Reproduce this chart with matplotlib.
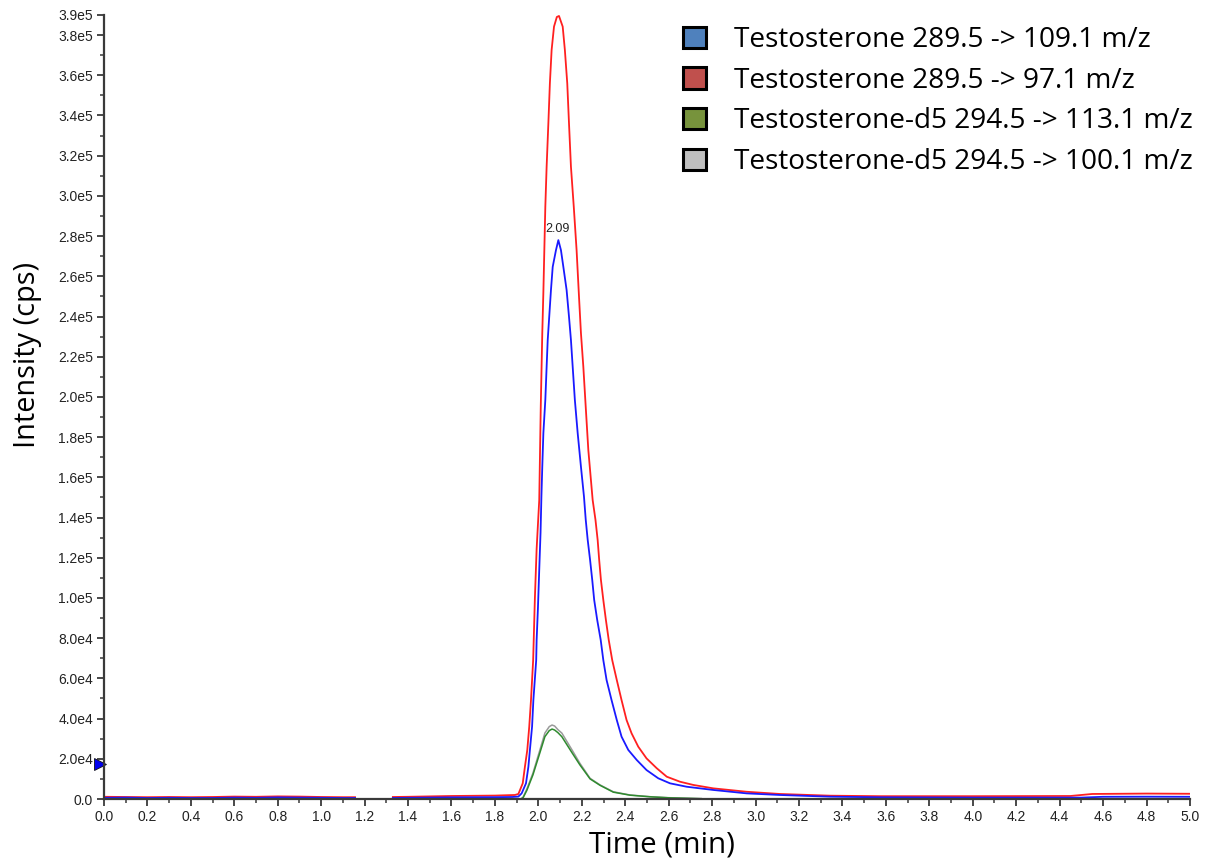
import numpy as np
import matplotlib.pyplot as plt
from matplotlib.patches import Patch
from matplotlib.ticker import FuncFormatter, MultipleLocator

# Testosterone 289.5 -> 109.1 (blue)
t_blue = [0.0, 0.1, 0.2, 0.3, 0.4, 0.5, 0.6, 0.7, 0.8, 0.9, 1.0, 1.1, 1.156, 1.2,
          1.33, 1.4, 1.5, 1.6, 1.7, 1.8, 1.88, 1.908, 1.923, 1.943, 1.954, 1.961,
          1.971, 1.977, 1.990, 1.992, 1.998, 2.004, 2.010, 2.014, 2.018, 2.023,
          2.032, 2.038, 2.043, 2.050, 2.058, 2.066, 2.081, 2.092, 2.104, 2.115,
          2.130, 2.141, 2.150, 2.158, 2.168, 2.181, 2.196, 2.210, 2.218, 2.227,
          2.238, 2.248, 2.257, 2.271, 2.287, 2.299, 2.314, 2.337, 2.361, 2.383,
          2.414, 2.453, 2.498, 2.552, 2.606, 2.683, 2.805, 2.959, 3.112, 3.343,
          3.573, 4.0, 4.5, 4.6, 4.8, 5.0]
i_blue = [600, 700, 500, 600, 500, 500, 700, 600, 800, 700, 600, 500, 500, np.nan,
          500, 600, 700, 800, 850, 900, 1000, 1200, 2800, 7800, 16000, 24400,
          36000, 49200, 69100, 79100, 95000, 114000, 132500, 150400, 165300, 182000,
          198500, 215000, 228300, 239900, 253200, 264700, 273000, 278000, 273000, 264700,
          253200, 239900, 228300, 215000, 198500, 182000, 165300, 150400, 139000, 129000,
          119000, 109000, 99000, 89000, 79100, 69100, 59200, 49200, 39300, 31000,
          24400, 19400, 14400, 10300, 7800, 6100, 4500, 2800, 2000, 1150,
          850, 700, 700, 1100, 1150, 1100]

# Testosterone 289.5 -> 97.1 (red)
t_red = [0.0, 0.1, 0.2, 0.3, 0.4, 0.5, 0.6, 0.7, 0.8, 0.9, 1.0, 1.1, 1.156, 1.2,
         1.33, 1.4, 1.5, 1.6, 1.7, 1.8, 1.86, 1.892, 1.908, 1.928, 1.938, 1.949,
         1.958, 1.966, 1.976, 1.984, 1.992, 2.004, 2.011, 2.018, 2.023, 2.032,
         2.038, 2.046, 2.053, 2.061, 2.072, 2.085, 2.095, 2.112, 2.122, 2.133,
         2.141, 2.150, 2.163, 2.176, 2.187, 2.196, 2.207, 2.218, 2.230, 2.250,
         2.263, 2.273, 2.280, 2.288, 2.299, 2.311, 2.324, 2.340, 2.361, 2.383,
         2.406, 2.429, 2.460, 2.498, 2.545, 2.591, 2.652, 2.713, 2.805, 2.959,
         3.112, 3.343, 3.573, 4.0, 4.45, 4.55, 4.8, 5.0]
i_red = [1100, 1000, 900, 1000, 900, 1000, 1200, 1100, 1300, 1200, 1000, 900, 900, np.nan,
         1000, 1100, 1300, 1500, 1600, 1700, 1900, 2000, 2500, 7800, 16000, 24400,
         36000, 49200, 69100, 100000, 124400, 148700, 195100, 231800, 252000, 294600,
         314500, 336100, 356000, 372600, 384200, 389000, 389500, 384200, 372600, 356000,
         336100, 314500, 294600, 273000, 250000, 231800, 215000, 195100, 173600, 148700,
         138800, 128800, 118900, 109000, 99000, 89000, 79100, 69100, 59200, 49200,
         39300, 32700, 26000, 20200, 15300, 11100, 8600, 7000, 5300, 3600,
         2500, 1650, 1400, 1400, 1500, 2500, 2700, 2600]

# Testosterone-d5 294.5 -> 113.1 (green)
t_green = [1.92, 1.93, 1.947, 1.975, 2.007, 2.03, 2.05, 2.063, 2.075, 2.09, 2.108,
           2.155, 2.191, 2.238, 2.284, 2.345, 2.422, 2.514, 2.6, 2.698, 2.75]
i_green = [0, 700, 4300, 12000, 23000, 31000, 34000, 34800, 34300, 33000, 31000,
           23000, 17000, 10000, 6800, 3400, 1900, 1100, 600, 300, 150]

# Testosterone-d5 294.5 -> 100.1 (grey)
t_grey = [1.92, 1.93, 1.947, 1.975, 2.007, 2.03, 2.05, 2.063, 2.075, 2.09, 2.108,
          2.155, 2.191, 2.238, 2.284, 2.345, 2.422, 2.514, 2.6, 2.698, 2.75]
i_grey = [0, 1000, 5000, 12900, 24400, 32800, 36000, 36800, 36300, 34500, 32800,
          24400, 17800, 10300, 7000, 3600, 2000, 1150, 650, 350, 200]

legend_labels = ["Testosterone 289.5 -> 109.1 m/z",
                 "Testosterone 289.5 -> 97.1 m/z",
                 "Testosterone-d5 294.5 -> 113.1 m/z",
                 "Testosterone-d5 294.5 -> 100.1 m/z"]
legend_colors = ["#4F81BD", "#C0504D", "#77933C", "#BFBFBF"]

peak_time = 2.09
label_level = 283500
marker_level = 17400

axis_col = "#3a3a3a"

fig = plt.figure(figsize=(12.12, 8.65), dpi=100)
ax = fig.add_axes([0.0858, 0.0763, 0.8960, 0.9064])

ax.plot(t_grey, i_grey, color="#9a9a9a", lw=1.1)
ax.plot(t_green, i_green, color="#2e8b2e", lw=1.1)
ax.plot(t_red, i_red, color="#ff2020", lw=1.3)
ax.plot(t_blue, i_blue, color="#1a1aff", lw=1.3)

ax.text(peak_time, label_level, "2.09", ha="center", va="center",
        fontsize=9, family="Liberation Sans", color="#222222")

ax.plot([-0.018], [marker_level], marker=">", color="#0000ee", markersize=8,
        markeredgecolor="#111111", markeredgewidth=0.6, clip_on=False)

ax.set_xlim(0, 5.0)
ax.set_ylim(0, 390000)

ax.xaxis.set_major_locator(MultipleLocator(0.2))
ax.xaxis.set_minor_locator(MultipleLocator(0.1))
yt = list(np.arange(0, 380001, 20000)) + [390000]
ax.set_yticks(yt)
ax.yaxis.set_minor_locator(MultipleLocator(10000))


def yfmt(v, pos):
    if v == 0:
        return "0.0"
    e = int(np.floor(np.log10(v)))
    return f"{v / 10 ** e:.1f}e{e}"


ax.yaxis.set_major_formatter(FuncFormatter(yfmt))
ax.xaxis.set_major_formatter(FuncFormatter(lambda v, p: f"{v:.1f}"))

for s in ["top", "right"]:
    ax.spines[s].set_visible(False)
for s in ["left", "bottom"]:
    ax.spines[s].set_color(axis_col)
    ax.spines[s].set_linewidth(1.6)

ax.tick_params(which="major", length=5, width=1.3, color=axis_col,
               labelsize=10, labelcolor="#222222", pad=3)
ax.tick_params(which="minor", length=3, width=1.1, color=axis_col)
for lab in ax.get_xticklabels() + ax.get_yticklabels():
    lab.set_family("Liberation Sans")

ax.set_xlabel("Time (min)", fontsize=21.3, family="Open Sans")
ax.set_ylabel("Intensity (cps)", fontsize=20.8, family="Open Sans")
ax.xaxis.set_label_coords(0.5138, -0.040)
ax.yaxis.set_label_coords(-0.057, 0.566)

handles = [Patch(facecolor=c, edgecolor="black", linewidth=2.2) for c in legend_colors]
fig.legend(handles, legend_labels, loc="upper left", bbox_to_anchor=(0.543, 0.999),
           frameon=False, prop={"family": "Open Sans", "size": 20.2},
           handlelength=0.8, handleheight=0.8, handletextpad=1.0, labelspacing=0.45)

fig.savefig("out.png", dpi=100)
